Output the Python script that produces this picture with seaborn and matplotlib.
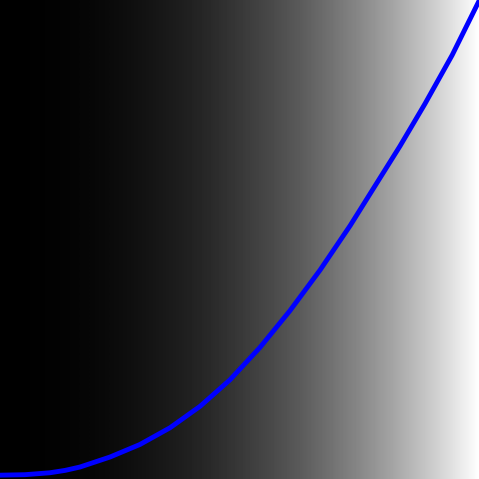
import numpy as np
import matplotlib
matplotlib.use("Agg")
import matplotlib.pyplot as plt
import seaborn as sns

# curve values (x and y both on 0..1)
curve_x = [0.000, 0.052, 0.104, 0.136, 0.167, 0.230, 0.292, 0.355, 0.418, 0.480,
           0.543, 0.605, 0.668, 0.731, 0.793, 0.835, 0.887, 0.944, 1.000]
curve_y = [0.008, 0.009, 0.013, 0.018, 0.025, 0.046, 0.072, 0.107, 0.152, 0.207,
           0.275, 0.351, 0.436, 0.529, 0.628, 0.695, 0.783, 0.885, 0.998]

# background grey levels sampled at 17 even steps from left to right
grey_levels = [0, 1, 3, 6, 12, 20, 29, 41, 56, 72, 90, 112, 135, 161, 190, 221, 255]

fig = plt.figure(figsize=(4.79, 4.79), dpi=100)
ax = fig.add_axes([0, 0, 1, 1])

half = 0.5 / (len(grey_levels) - 1)
ax.imshow(np.array([grey_levels]), cmap="gray", vmin=0, vmax=255,
          interpolation="bilinear", aspect="auto",
          extent=[-half, 1 + half, 0, 1])

sns.lineplot(x=curve_x, y=curve_y, color="blue", linewidth=3.5,
             sort=False, ax=ax)

ax.set_xlim(0, 1)
ax.set_ylim(0, 1)
ax.axis("off")

fig.savefig("out.png", dpi=100)
